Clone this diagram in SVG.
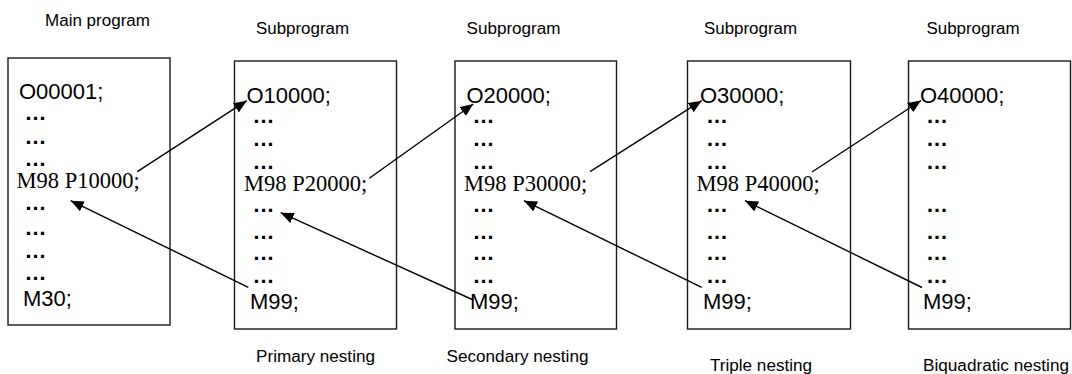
<svg xmlns="http://www.w3.org/2000/svg" width="1072" height="374" viewBox="0 0 1072 374">
<defs>
<marker id="ah" markerUnits="userSpaceOnUse" markerWidth="14" markerHeight="12" refX="13" refY="5.5" orient="auto">
<path d="M0,0 L13,5.5 L0,11 z" fill="#000"/>
</marker>
<style>
.box{fill:#fff;stroke:#1a1a1a;stroke-width:1.4}
.lbl{font-family:"Liberation Sans",Arial,sans-serif;font-size:16px;fill:#000}
.code{font-family:"Liberation Sans",Arial,sans-serif;font-size:22px;fill:#000}
.dots{font-family:"Liberation Sans",Arial,sans-serif;font-size:22px;font-weight:bold;fill:#000}
.call{font-family:"Liberation Serif","Times New Roman",serif;font-size:22.5px;fill:#000}
.conn{stroke:#000;stroke-width:1.4;fill:none;marker-end:url(#ah)}
</style>
</defs>
<rect width="1072" height="374" fill="#fff"/>

<g id="main">
<rect class="box" x="8" y="58" width="162" height="267"/>
<text class="lbl" x="45" y="26" textLength="105" lengthAdjust="spacingAndGlyphs">Main program</text>
<text class="code" x="19" y="99">O00001;</text>
<text class="dots" x="24.5" y="119.5">…</text>
<text class="dots" x="24.5" y="143.5">…</text>
<text class="dots" x="24.5" y="165.5">…</text>
<text class="call" x="16.5" y="188">M98 P10000;</text>
<text class="dots" x="24.5" y="209.5">…</text>
<text class="dots" x="24.5" y="234.5">…</text>
<text class="dots" x="24.5" y="257.5">…</text>
<text class="dots" x="24.5" y="279.5">…</text>
<text class="code" x="23" y="306">M30;</text>
</g>

<g id="sub1">
<rect class="box" x="234.5" y="61" width="162" height="268"/>
<text class="lbl" x="256" y="34" textLength="93" lengthAdjust="spacingAndGlyphs">Subprogram</text>
<text class="code" x="246.5" y="102.5">O10000;</text>
<text class="dots" x="252.5" y="123">…</text>
<text class="dots" x="252.5" y="146">…</text>
<text class="dots" x="252.5" y="169">…</text>
<text class="call" x="244" y="190.5">M98 P20000;</text>
<text class="dots" x="252.5" y="212">…</text>
<text class="dots" x="252.5" y="239">…</text>
<text class="dots" x="252.5" y="260">…</text>
<text class="dots" x="252.5" y="283">…</text>
<text class="code" x="250" y="309">M99;</text>
<text class="lbl" x="256" y="361.5" textLength="119" lengthAdjust="spacingAndGlyphs">Primary nesting</text>
</g>

<g id="sub2">
<rect class="box" x="455" y="61" width="161.5" height="268"/>
<text class="lbl" x="466.5" y="34" textLength="94" lengthAdjust="spacingAndGlyphs">Subprogram</text>
<text class="code" x="466.5" y="102.5">O20000;</text>
<text class="dots" x="472.5" y="123">…</text>
<text class="dots" x="472.5" y="146">…</text>
<text class="dots" x="472.5" y="169">…</text>
<text class="call" x="464" y="190.5">M98 P30000;</text>
<text class="dots" x="472.5" y="212">…</text>
<text class="dots" x="472.5" y="239">…</text>
<text class="dots" x="472.5" y="260">…</text>
<text class="dots" x="472.5" y="283">…</text>
<text class="code" x="470" y="309">M99;</text>
<text class="lbl" x="446.5" y="361.5" textLength="142" lengthAdjust="spacingAndGlyphs">Secondary nesting</text>
</g>

<g id="sub3">
<rect class="box" x="687.5" y="61" width="163" height="268"/>
<text class="lbl" x="704" y="34" textLength="93" lengthAdjust="spacingAndGlyphs">Subprogram</text>
<text class="code" x="700" y="102.5">O30000;</text>
<text class="dots" x="706" y="123">…</text>
<text class="dots" x="706" y="146">…</text>
<text class="dots" x="706" y="169">…</text>
<text class="call" x="696.5" y="190.5">M98 P40000;</text>
<text class="dots" x="706" y="212">…</text>
<text class="dots" x="706" y="239">…</text>
<text class="dots" x="706" y="260">…</text>
<text class="dots" x="706" y="283">…</text>
<text class="code" x="703" y="309">M99;</text>
<text class="lbl" x="710" y="370.5" textLength="102" lengthAdjust="spacingAndGlyphs">Triple nesting</text>
</g>

<g id="sub4">
<rect class="box" x="908.5" y="61" width="162" height="268"/>
<text class="lbl" x="926.5" y="34" textLength="93" lengthAdjust="spacingAndGlyphs">Subprogram</text>
<text class="code" x="920" y="102.5">O40000;</text>
<text class="dots" x="926" y="123">…</text>
<text class="dots" x="926" y="146">…</text>
<text class="dots" x="926" y="169">…</text>
<text class="dots" x="926" y="212">…</text>
<text class="dots" x="926" y="239">…</text>
<text class="dots" x="926" y="260">…</text>
<text class="dots" x="926" y="283">…</text>
<text class="code" x="923" y="309">M99;</text>
<text class="lbl" x="923" y="370.5" textLength="146" lengthAdjust="spacingAndGlyphs">Biquadratic nesting</text>
</g>

<g id="connectors">
<line class="conn" x1="137.3" y1="171.7" x2="246.7" y2="100.7"/>
<line class="conn" x1="248.3" y1="287.3" x2="70.7" y2="200.7"/>
<line class="conn" x1="369.3" y1="178.3" x2="473.3" y2="104"/>
<line class="conn" x1="473.3" y1="300" x2="280.7" y2="212.7"/>
<line class="conn" x1="590" y1="171.7" x2="701.7" y2="100.7"/>
<line class="conn" x1="701.7" y1="287.3" x2="524" y2="200.7"/>
<line class="conn" x1="812" y1="172" x2="921" y2="100.5"/>
<line class="conn" x1="922" y1="287.5" x2="745" y2="200.7"/>
</g>
</svg>
